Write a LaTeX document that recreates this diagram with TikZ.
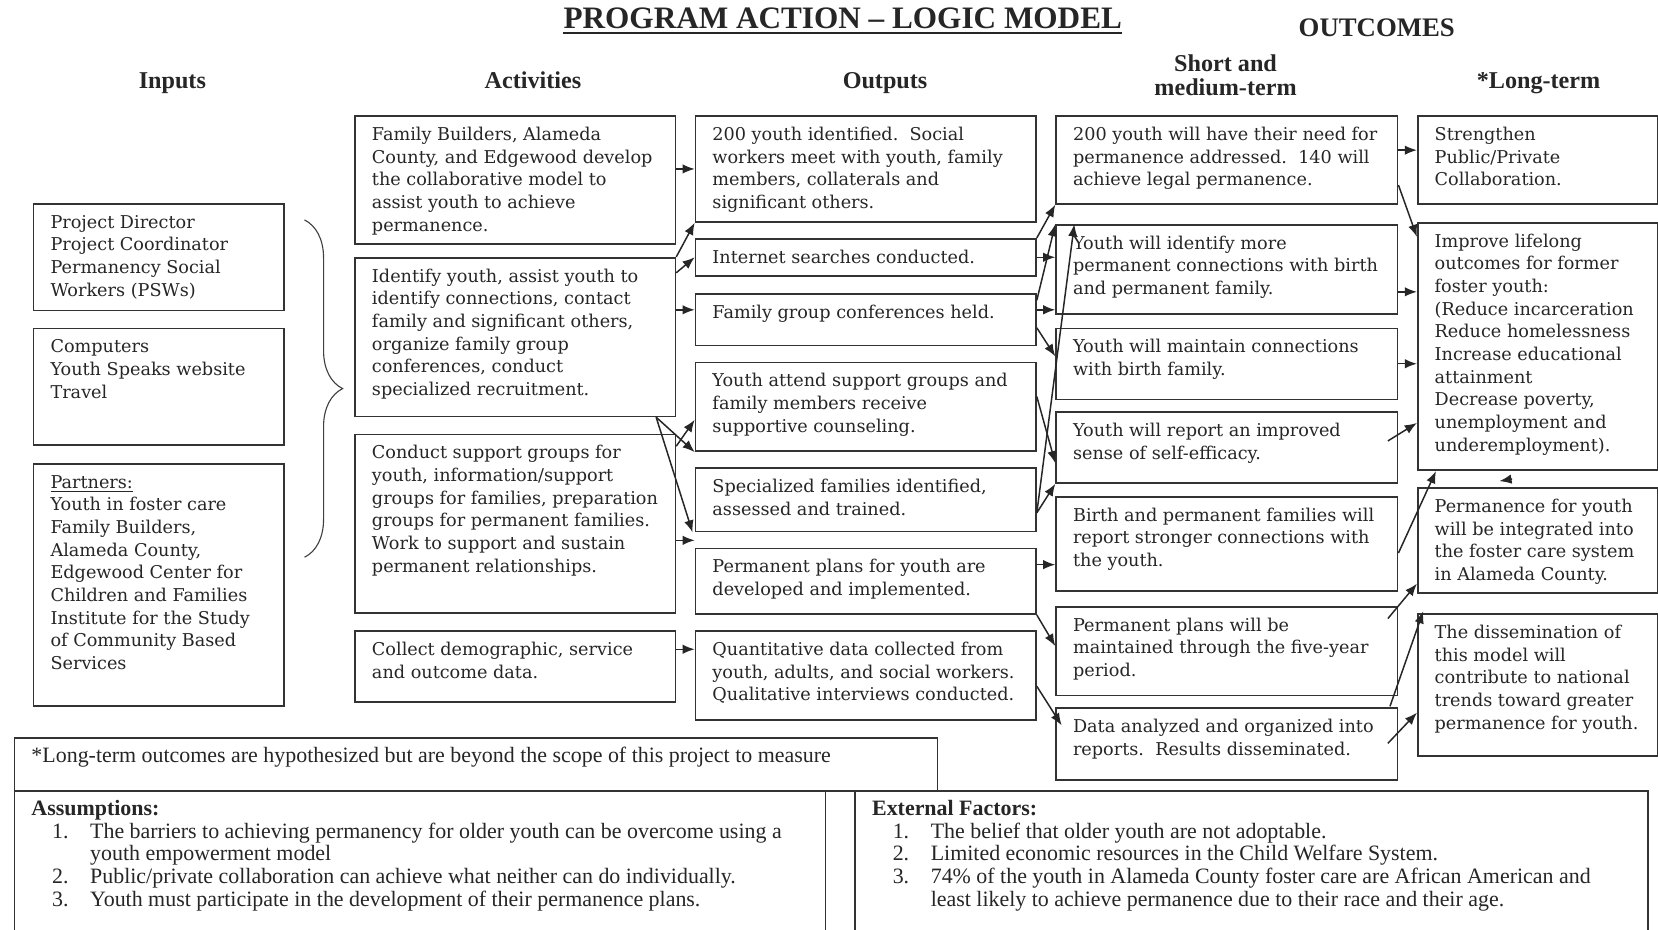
\documentclass[tikz,border=0pt]{standalone}
\usepackage{fontspec}
\setmainfont{Liberation Serif}
\newfontfamily\boxfont{DejaVu Serif}
\usepackage{tikz}
\usetikzlibrary{arrows.meta,calc,decorations.pathreplacing}
\newcommand{\boxcell}[3]{\parbox[t][#2][t]{#1}{\raggedright\leftskip=0.16cm\strut#3}}
\newcommand{\itm}[1]{\hspace*{0.39cm}\makebox[0.72cm][l]{#1}}

\begin{document}
\begin{tikzpicture}[x=0.02cm, y=-0.02cm,
	lbox/.style={draw=black!80, line width=0.9pt, anchor=north west, inner xsep=0.16cm, inner ysep=0.16cm, text=black!85, font=\boxfont\fontsize{9.5}{12.2}\selectfont},
	bbox/.style={lbox, font=\fontsize{11.8}{12.3}\selectfont},
	head/.style={font=\bfseries\fontsize{13}{13}\selectfont, text=black!85, align=center},
	arr/.style={draw=black!85, line width=0.8pt, -{Latex[length=0.23cm,width=0.18cm]}}]
	\clip (0,0) rectangle (1568,879);
	\fill[white] (0,0) rectangle (1568,879);

	\node[head, font=\bfseries\fontsize{16.8}{17}\selectfont, inner sep=0pt] (T) at (797,17) {PROGRAM ACTION -- LOGIC MODEL};
	\draw[line width=1.4pt, black!85] ($(T.south west)+(0,4)$) -- ($(T.south east)+(0,4)$);
	\node[head, font=\bfseries\fontsize{14.4}{15}\selectfont] (OC) at (1302,26) {OUTCOMES};
	\node[head, anchor=base] (HI) at (163,84) {Inputs};
	\node[head, anchor=base] (HA) at (504,84) {Activities};
	\node[head, anchor=base] (HO) at (837,84) {Outputs};
	\node[head] (HS) at (1159,71) {Short and\\medium-term};
	\node[head, anchor=base] (HL) at (1455,84) {*Long-term};

	\node[lbox] (I1) at (31,192) {\boxcell{4.42cm}{1.70cm}{Project Director\\Project Coordinator\\Permanency Social\\Workers (PSWs)}};
	\node[lbox] (I2) at (31,310) {\boxcell{4.42cm}{1.88cm}{Computers\\Youth Speaks website\\Travel}};
	\node[lbox] (I3) at (31,438) {\boxcell{4.42cm}{4.26cm}{\underline{Partners:}\\Youth in foster care\\Family Builders,\\Alameda County,\\Edgewood Center for\\Children and Families\\Institute for the Study\\of Community Based\\Services}};
	\draw[black!75, line width=0.6pt, decorate, decoration={brace, amplitude=0.72cm}] (288,208) -- (288,527);

	\node[lbox] (A1) at (335,109) {\boxcell{5.74cm}{2.10cm}{Family Builders, Alameda\\County, and Edgewood develop\\the collaborative model to\\assist youth to achieve\\permanence.}};
	\node[lbox] (A2) at (335,243) {\boxcell{5.74cm}{2.68cm}{Identify youth, assist youth to\\identify connections, contact\\family and significant others,\\organize family group\\conferences, conduct\\specialized recruitment.}};
	\node[lbox] (A3) at (335,410) {\boxcell{5.74cm}{3.06cm}{Conduct support groups for\\youth, information/support\\groups for families, preparation\\groups for permanent families.\\Work to support and sustain\\permanent relationships.}};
	\node[lbox] (A4) at (335,596) {\boxcell{5.74cm}{1.02cm}{Collect demographic, service\\and outcome data.}};

	\node[lbox] (O1) at (657,109) {\boxcell{6.12cm}{1.68cm}{200 youth identified.\ \ Social\\workers meet with youth, family\\members, collaterals and\\significant others.}};
	\node[lbox] (O2) at (657,225) {\boxcell{6.12cm}{0.38cm}{Internet searches conducted.}};
	\node[lbox] (O3) at (657,277) {\boxcell{6.12cm}{0.66cm}{Family group conferences held.}};
	\node[lbox] (O4) at (657,342) {\boxcell{6.12cm}{1.36cm}{Youth attend support groups and\\family members receive\\supportive counseling.}};
	\node[lbox] (O5) at (657,442) {\boxcell{6.12cm}{0.88cm}{Specialized families identified,\\assessed and trained.}};
	\node[lbox] (O6) at (657,518) {\boxcell{6.12cm}{0.92cm}{Permanent plans for youth are\\developed and implemented.}};
	\node[lbox] (O7) at (657,596) {\boxcell{6.12cm}{1.36cm}{Quantitative data collected from\\youth, adults, and social workers.\\Qualitative interviews conducted.}};

	\node[lbox] (S1) at (998,109) {\boxcell{6.14cm}{1.34cm}{200 youth will have their need for\\permanence addressed.\ \ 140 will\\achieve legal permanence.}};
	\node[lbox] (S2) at (998,212) {\boxcell{6.14cm}{1.36cm}{Youth will identify more\\permanent connections with birth\\and permanent family.}};
	\node[lbox] (S3) at (998,310) {\boxcell{6.14cm}{1.02cm}{Youth will maintain connections\\with birth family.}};
	\node[lbox] (S4) at (998,389) {\boxcell{6.14cm}{1.02cm}{Youth will report an improved\\sense of self-efficacy.}};
	\node[lbox] (S5) at (998,469) {\boxcell{6.14cm}{1.46cm}{Birth and permanent families will\\report stronger connections with\\the youth.}};
	\node[lbox] (S6) at (998,573) {\boxcell{6.14cm}{1.36cm}{Permanent plans will be\\maintained through the five-year\\period.}};
	\node[lbox] (S7) at (998,669) {\boxcell{6.14cm}{1.04cm}{Data analyzed and organized into\\reports.\ \ Results disseminated.}};

	\node[lbox] (L1) at (1340,109) {\boxcell{4.22cm}{1.34cm}{Strengthen\\Public/Private\\Collaboration.}};
	\node[lbox] (L2) at (1340,210) {\boxcell{4.22cm}{4.36cm}{Improve lifelong\\outcomes for former\\foster youth:\\(Reduce incarceration\\Reduce homelessness\\Increase educational\\attainment\\Decrease poverty,\\unemployment and\\underemployment).}};
	\node[lbox] (L3) at (1340,461) {\boxcell{4.22cm}{1.66cm}{Permanence for youth\\will be integrated into\\the foster care system\\in Alameda County.}};
	\node[lbox] (L4) at (1340,580) {\boxcell{4.22cm}{2.36cm}{The dissemination of\\this model will\\contribute to national\\trends toward greater\\permanence for youth.}};

	\node[bbox] (N) at (13,697) {\boxcell{17.14cm}{0.68cm}{\vspace*{2pt}*Long-term outcomes are hypothesized but are beyond the scope of this project to measure}};
	\node[bbox] (AS) at (13,747) {\boxcell{15.02cm}{2.48cm}{\textbf{Assumptions:}\\
		\itm{1.}The barriers to achieving permanency for older youth can be overcome using a\\
		\hspace*{1.11cm}youth empowerment model\\
		\itm{2.}Public/private collaboration can achieve what neither can do individually.\\
		\itm{3.}Youth must participate in the development of their permanence plans.}};
	\node[bbox] (EF) at (808,747) {\boxcell{14.68cm}{2.48cm}{\textbf{External Factors:}\\
		\itm{1.}The belief that older youth are not adoptable.\\
		\itm{2.}Limited economic resources in the Child Welfare System.\\
		\itm{3.}74\% of the youth in Alameda County foster care are African American and\\
		\hspace*{1.11cm}least likely to achieve permanence due to their race and their age.}};

	\draw[arr] (A1.east |- O1.west) -- (O1.west);
	\draw[arr] (A2.north east) -- (O1.south west);
	\draw[arr] ($(A2.north east)+(0,15)$) -- (O2.west);
	\draw[arr] ($(A2.north east)+(0,50)$) -- ($(O3.north west)+(0,16)$);
	\draw[arr] ($(A2.south east)+(-19,0)$) -- (O4.south west);
	\draw[arr] ($(A2.south east)+(-19,0)$) -- ($(O5.south west)+(-2,0)$);
	\draw[arr] ($(A3.north east)+(0,12)$) -- ($(O4.north west)+(0,55)$);
	\draw[arr] ($(A3.north east)+(0,101)$) -- ($(O6.north west)+(0,-7)$);
	\draw[arr] ($(A4.north east)+(0,18)$) -- ($(O7.north west)+(0,18)$);

	\draw[arr] (O2.north east) -- (S1.south west);
	\draw[arr] (O2.east) -- (O2.east -| S2.west);
	\draw[arr] ($(O3.north east)+(0,16)$) -- ($(S2.north west)+(0,81)$);
	\draw[arr] ($(O3.north east)+(0,7)$) -- (S2.north west);
	\draw[arr] ($(O3.north east)+(0,33)$) -- ($(S3.north west)+(0,27)$);
	\draw[arr] ($(O4.north east)+(0,33)$) -- ($(S4.north west)+(0,49)$);
	\draw[arr] ($(O5.north east)+(0,43)$) -- (S4.south west);
	\draw[arr] ($(O5.north east)+(0,43)$) -- ($(S2.north west)+(18,0)$);
	\draw[arr] ($(O6.north east)+(0,16)$) -- ($(S5.north west)+(0,65)$);
	\draw[arr] (O6.south east) -- ($(S6.north west)+(0,38)$);
	\draw[arr] ($(O7.north east)+(0,53)$) -- ($(S7.north west)+(6,17)$);

	\draw[arr] ($(S1.north east)+(0,33)$) -- ($(L1.north west)+(0,33)$);
	\draw[arr] ($(S1.north east)+(0,66)$) -- ($(L2.north west)+(0,14)$);
	\draw[arr] ($(S2.north east)+(0,64)$) -- ($(L2.north west)+(0,66)$);
	\draw[arr] ($(S3.north east)+(0,34)$) -- ($(L2.north west)+(0,134)$);
	\draw[arr] ($(S4.north east)+(-10,28)$) -- ($(L2.north west)+(0,190)$);
	\draw[arr] ($(S5.north east)+(0,54)$) -- ($(L2.south west)+(18,0)$);
	\draw[arr] ($(L3.north west)+(90,-8)$) -- ($(L3.north west)+(78,-6)$);
	\draw[arr] ($(S6.north east)+(-10,12)$) -- ($(L3.north west)+(0,91)$);
	\draw[arr] ($(S7.north east)+(-8,-1)$) -- ($(L4.north west)+(6,-2)$);
	\draw[arr] ($(S7.north east)+(-10,34)$) -- ($(L4.north west)+(0,94)$);
\end{tikzpicture}
\end{document}
